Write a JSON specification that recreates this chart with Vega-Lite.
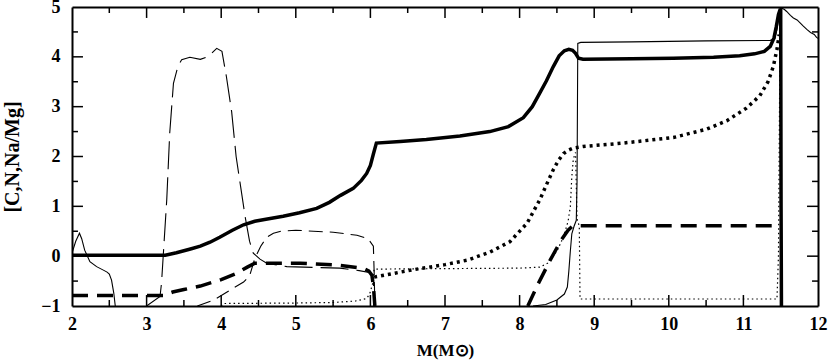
{
  "$schema": "https://vega.github.io/schema/vega-lite/v6.json",
  "width": 746,
  "height": 299,
  "autosize": {"type": "none"},
  "padding": {"left": 72, "top": 7, "right": 12, "bottom": 58},
  "background": "white",
  "config": {
    "view": {"stroke": null, "fill": null},
    "axis": {
      "zindex": 1,
      "domainColor": "black", "domainWidth": 2, "ticks": false,
      "labelColor": "black", "labelFont": "Liberation Serif", "labelFontSize": 18, "labelFontWeight": "bold",
      "titleColor": "black", "titleFont": "Liberation Serif", "titleFontSize": 20, "titleFontWeight": "bold",
      "grid": false, "labelOverlap": false, "labelFlush": false, "format": "d"
    }
  },
  "data": {"values": [
    {"s":"tk","g":"xb3","x":3,"y":-1},{"s":"tk","g":"xb3","x":3,"y":-0.78},
    {"s":"tk","g":"xb4","x":4,"y":-1},{"s":"tk","g":"xb4","x":4,"y":-0.78},
    {"s":"tk","g":"xb5","x":5,"y":-1},{"s":"tk","g":"xb5","x":5,"y":-0.78},
    {"s":"tk","g":"xb6","x":6,"y":-1},{"s":"tk","g":"xb6","x":6,"y":-0.78},
    {"s":"tk","g":"xb7","x":7,"y":-1},{"s":"tk","g":"xb7","x":7,"y":-0.78},
    {"s":"tk","g":"xb8","x":8,"y":-1},{"s":"tk","g":"xb8","x":8,"y":-0.78},
    {"s":"tk","g":"xb9","x":9,"y":-1},{"s":"tk","g":"xb9","x":9,"y":-0.78},
    {"s":"tk","g":"xb10","x":10,"y":-1},{"s":"tk","g":"xb10","x":10,"y":-0.78},
    {"s":"tk","g":"xb11","x":11,"y":-1},{"s":"tk","g":"xb11","x":11,"y":-0.78},
    {"s":"tk","g":"xt3","x":3,"y":5},{"s":"tk","g":"xt3","x":3,"y":4.78},
    {"s":"tk","g":"xt4","x":4,"y":5},{"s":"tk","g":"xt4","x":4,"y":4.78},
    {"s":"tk","g":"xt5","x":5,"y":5},{"s":"tk","g":"xt5","x":5,"y":4.78},
    {"s":"tk","g":"xt6","x":6,"y":5},{"s":"tk","g":"xt6","x":6,"y":4.78},
    {"s":"tk","g":"xt7","x":7,"y":5},{"s":"tk","g":"xt7","x":7,"y":4.78},
    {"s":"tk","g":"xt8","x":8,"y":5},{"s":"tk","g":"xt8","x":8,"y":4.78},
    {"s":"tk","g":"xt9","x":9,"y":5},{"s":"tk","g":"xt9","x":9,"y":4.78},
    {"s":"tk","g":"xt10","x":10,"y":5},{"s":"tk","g":"xt10","x":10,"y":4.78},
    {"s":"tk","g":"xt11","x":11,"y":5},{"s":"tk","g":"xt11","x":11,"y":4.78},
    {"s":"tk","g":"xbm2.5","x":2.5,"y":-1},{"s":"tk","g":"xbm2.5","x":2.5,"y":-0.88},
    {"s":"tk","g":"xbm3.5","x":3.5,"y":-1},{"s":"tk","g":"xbm3.5","x":3.5,"y":-0.88},
    {"s":"tk","g":"xbm4.5","x":4.5,"y":-1},{"s":"tk","g":"xbm4.5","x":4.5,"y":-0.88},
    {"s":"tk","g":"xbm5.5","x":5.5,"y":-1},{"s":"tk","g":"xbm5.5","x":5.5,"y":-0.88},
    {"s":"tk","g":"xbm6.5","x":6.5,"y":-1},{"s":"tk","g":"xbm6.5","x":6.5,"y":-0.88},
    {"s":"tk","g":"xbm7.5","x":7.5,"y":-1},{"s":"tk","g":"xbm7.5","x":7.5,"y":-0.88},
    {"s":"tk","g":"xbm8.5","x":8.5,"y":-1},{"s":"tk","g":"xbm8.5","x":8.5,"y":-0.88},
    {"s":"tk","g":"xbm9.5","x":9.5,"y":-1},{"s":"tk","g":"xbm9.5","x":9.5,"y":-0.88},
    {"s":"tk","g":"xbm10.5","x":10.5,"y":-1},{"s":"tk","g":"xbm10.5","x":10.5,"y":-0.88},
    {"s":"tk","g":"xbm11.5","x":11.5,"y":-1},{"s":"tk","g":"xbm11.5","x":11.5,"y":-0.88},
    {"s":"tk","g":"xtm2.5","x":2.5,"y":5},{"s":"tk","g":"xtm2.5","x":2.5,"y":4.88},
    {"s":"tk","g":"xtm3.5","x":3.5,"y":5},{"s":"tk","g":"xtm3.5","x":3.5,"y":4.88},
    {"s":"tk","g":"xtm4.5","x":4.5,"y":5},{"s":"tk","g":"xtm4.5","x":4.5,"y":4.88},
    {"s":"tk","g":"xtm5.5","x":5.5,"y":5},{"s":"tk","g":"xtm5.5","x":5.5,"y":4.88},
    {"s":"tk","g":"xtm6.5","x":6.5,"y":5},{"s":"tk","g":"xtm6.5","x":6.5,"y":4.88},
    {"s":"tk","g":"xtm7.5","x":7.5,"y":5},{"s":"tk","g":"xtm7.5","x":7.5,"y":4.88},
    {"s":"tk","g":"xtm8.5","x":8.5,"y":5},{"s":"tk","g":"xtm8.5","x":8.5,"y":4.88},
    {"s":"tk","g":"xtm9.5","x":9.5,"y":5},{"s":"tk","g":"xtm9.5","x":9.5,"y":4.88},
    {"s":"tk","g":"xtm10.5","x":10.5,"y":5},{"s":"tk","g":"xtm10.5","x":10.5,"y":4.88},
    {"s":"tk","g":"xtm11.5","x":11.5,"y":5},{"s":"tk","g":"xtm11.5","x":11.5,"y":4.88},
    {"s":"tk","g":"yl0","x":2,"y":0},{"s":"tk","g":"yl0","x":2.147,"y":0},
    {"s":"tk","g":"yl1","x":2,"y":1},{"s":"tk","g":"yl1","x":2.147,"y":1},
    {"s":"tk","g":"yl2","x":2,"y":2},{"s":"tk","g":"yl2","x":2.147,"y":2},
    {"s":"tk","g":"yl3","x":2,"y":3},{"s":"tk","g":"yl3","x":2.147,"y":3},
    {"s":"tk","g":"yl4","x":2,"y":4},{"s":"tk","g":"yl4","x":2.147,"y":4},
    {"s":"tk","g":"yr0","x":11.853,"y":0},{"s":"tk","g":"yr0","x":12,"y":0},
    {"s":"tk","g":"yr1","x":11.853,"y":1},{"s":"tk","g":"yr1","x":12,"y":1},
    {"s":"tk","g":"yr2","x":11.853,"y":2},{"s":"tk","g":"yr2","x":12,"y":2},
    {"s":"tk","g":"yr3","x":11.853,"y":3},{"s":"tk","g":"yr3","x":12,"y":3},
    {"s":"tk","g":"yr4","x":11.853,"y":4},{"s":"tk","g":"yr4","x":12,"y":4},
    {"s":"tk","g":"ylm-0.5","x":2,"y":-0.5},{"s":"tk","g":"ylm-0.5","x":2.08,"y":-0.5},
    {"s":"tk","g":"ylm0.5","x":2,"y":0.5},{"s":"tk","g":"ylm0.5","x":2.08,"y":0.5},
    {"s":"tk","g":"ylm1.5","x":2,"y":1.5},{"s":"tk","g":"ylm1.5","x":2.08,"y":1.5},
    {"s":"tk","g":"ylm2.5","x":2,"y":2.5},{"s":"tk","g":"ylm2.5","x":2.08,"y":2.5},
    {"s":"tk","g":"ylm3.5","x":2,"y":3.5},{"s":"tk","g":"ylm3.5","x":2.08,"y":3.5},
    {"s":"tk","g":"ylm4.5","x":2,"y":4.5},{"s":"tk","g":"ylm4.5","x":2.08,"y":4.5},
    {"s":"tk","g":"yrm-0.5","x":11.92,"y":-0.5},{"s":"tk","g":"yrm-0.5","x":12,"y":-0.5},
    {"s":"tk","g":"yrm0.5","x":11.92,"y":0.5},{"s":"tk","g":"yrm0.5","x":12,"y":0.5},
    {"s":"tk","g":"yrm1.5","x":11.92,"y":1.5},{"s":"tk","g":"yrm1.5","x":12,"y":1.5},
    {"s":"tk","g":"yrm2.5","x":11.92,"y":2.5},{"s":"tk","g":"yrm2.5","x":12,"y":2.5},
    {"s":"tk","g":"yrm3.5","x":11.92,"y":3.5},{"s":"tk","g":"yrm3.5","x":12,"y":3.5},
    {"s":"tk","g":"yrm4.5","x":11.92,"y":4.5},{"s":"tk","g":"yrm4.5","x":12,"y":4.5},

    {"s":"TS","g":"TS","x":2,"y":0.02},{"s":"TS","g":"TS","x":2.5,"y":0.02},{"s":"TS","g":"TS","x":3.0,"y":0.02},{"s":"TS","g":"TS","x":3.25,"y":0.02},{"s":"TS","g":"TS","x":3.4,"y":0.07},{"s":"TS","g":"TS","x":3.6,"y":0.15},{"s":"TS","g":"TS","x":3.72,"y":0.2},{"s":"TS","g":"TS","x":3.85,"y":0.28},{"s":"TS","g":"TS","x":3.98,"y":0.38},{"s":"TS","g":"TS","x":4.15,"y":0.52},{"s":"TS","g":"TS","x":4.3,"y":0.63},{"s":"TS","g":"TS","x":4.45,"y":0.7},{"s":"TS","g":"TS","x":4.6,"y":0.74},{"s":"TS","g":"TS","x":4.83,"y":0.8},{"s":"TS","g":"TS","x":5.05,"y":0.87},{"s":"TS","g":"TS","x":5.28,"y":0.96},{"s":"TS","g":"TS","x":5.45,"y":1.08},{"s":"TS","g":"TS","x":5.6,"y":1.22},{"s":"TS","g":"TS","x":5.77,"y":1.36},{"s":"TS","g":"TS","x":5.88,"y":1.52},{"s":"TS","g":"TS","x":5.95,"y":1.66},{"s":"TS","g":"TS","x":6.0,"y":1.82},{"s":"TS","g":"TS","x":6.04,"y":2.05},{"s":"TS","g":"TS","x":6.08,"y":2.27},{"s":"TS","g":"TS","x":6.4,"y":2.3},{"s":"TS","g":"TS","x":6.75,"y":2.34},{"s":"TS","g":"TS","x":7.2,"y":2.41},{"s":"TS","g":"TS","x":7.6,"y":2.5},{"s":"TS","g":"TS","x":7.85,"y":2.6},{"s":"TS","g":"TS","x":8.05,"y":2.78},{"s":"TS","g":"TS","x":8.17,"y":3.0},{"s":"TS","g":"TS","x":8.27,"y":3.27},{"s":"TS","g":"TS","x":8.36,"y":3.52},{"s":"TS","g":"TS","x":8.45,"y":3.8},{"s":"TS","g":"TS","x":8.53,"y":4.02},{"s":"TS","g":"TS","x":8.6,"y":4.12},{"s":"TS","g":"TS","x":8.66,"y":4.15},{"s":"TS","g":"TS","x":8.71,"y":4.13},{"s":"TS","g":"TS","x":8.75,"y":4.07},{"s":"TS","g":"TS","x":8.79,"y":3.97},{"s":"TS","g":"TS","x":8.85,"y":3.95},{"s":"TS","g":"TS","x":9.5,"y":3.96},{"s":"TS","g":"TS","x":10.06,"y":3.97},{"s":"TS","g":"TS","x":10.6,"y":3.99},{"s":"TS","g":"TS","x":10.95,"y":4.02},{"s":"TS","g":"TS","x":11.15,"y":4.06},{"s":"TS","g":"TS","x":11.28,"y":4.11},{"s":"TS","g":"TS","x":11.36,"y":4.21},{"s":"TS","g":"TS","x":11.41,"y":4.38},{"s":"TS","g":"TS","x":11.44,"y":4.6},{"s":"TS","g":"TS","x":11.47,"y":4.85},{"s":"TS","g":"TS","x":11.49,"y":4.94},{"s":"TS","g":"TS","x":11.5,"y":4.94},{"s":"TS","g":"TS","x":11.505,"y":1.0},{"s":"TS","g":"TS","x":11.51,"y":-1},

    {"s":"ts","g":"ts1","x":2.0,"y":0.06},{"s":"ts","g":"ts1","x":2.05,"y":0.3},{"s":"ts","g":"ts1","x":2.1,"y":0.46},{"s":"ts","g":"ts1","x":2.13,"y":0.35},{"s":"ts","g":"ts1","x":2.17,"y":0.12},{"s":"ts","g":"ts1","x":2.24,"y":-0.11},{"s":"ts","g":"ts1","x":2.33,"y":-0.21},{"s":"ts","g":"ts1","x":2.42,"y":-0.28},{"s":"ts","g":"ts1","x":2.47,"y":-0.32},{"s":"ts","g":"ts1","x":2.5,"y":-0.36},{"s":"ts","g":"ts1","x":2.53,"y":-0.48},{"s":"ts","g":"ts1","x":2.56,"y":-0.74},{"s":"ts","g":"ts1","x":2.58,"y":-1.0},
    {"s":"ts","g":"ts2","x":8.18,"y":-1.0},{"s":"ts","g":"ts2","x":8.35,"y":-0.97},{"s":"ts","g":"ts2","x":8.5,"y":-0.88},{"s":"ts","g":"ts2","x":8.6,"y":-0.76},{"s":"ts","g":"ts2","x":8.64,"y":-0.62},{"s":"ts","g":"ts2","x":8.66,"y":-0.3},{"s":"ts","g":"ts2","x":8.68,"y":0.1},{"s":"ts","g":"ts2","x":8.7,"y":0.45},{"s":"ts","g":"ts2","x":8.73,"y":0.6},{"s":"ts","g":"ts2","x":8.76,"y":0.72},{"s":"ts","g":"ts2","x":8.77,"y":1.5},{"s":"ts","g":"ts2","x":8.78,"y":4.27},{"s":"ts","g":"ts2","x":8.82,"y":4.29},{"s":"ts","g":"ts2","x":9.5,"y":4.3},{"s":"ts","g":"ts2","x":10.5,"y":4.32},{"s":"ts","g":"ts2","x":11.36,"y":4.33},{"s":"ts","g":"ts2","x":11.42,"y":4.36},{"s":"ts","g":"ts2","x":11.45,"y":4.55},{"s":"ts","g":"ts2","x":11.47,"y":4.75},{"s":"ts","g":"ts2","x":11.49,"y":4.92},{"s":"ts","g":"ts2","x":11.51,"y":4.98},{"s":"ts","g":"ts2","x":11.55,"y":4.95},{"s":"ts","g":"ts2","x":11.58,"y":4.91},{"s":"ts","g":"ts2","x":11.63,"y":4.83},{"s":"ts","g":"ts2","x":11.67,"y":4.78},{"s":"ts","g":"ts2","x":11.72,"y":4.74},{"s":"ts","g":"ts2","x":11.76,"y":4.68},{"s":"ts","g":"ts2","x":11.8,"y":4.62},{"s":"ts","g":"ts2","x":11.85,"y":4.55},{"s":"ts","g":"ts2","x":11.9,"y":4.49},{"s":"ts","g":"ts2","x":11.95,"y":4.45},{"s":"ts","g":"ts2","x":11.98,"y":4.39},{"s":"ts","g":"ts2","x":12.0,"y":4.37},

    {"s":"TD","g":"TD1","x":2,"y":-0.79},{"s":"TD","g":"TD1","x":3.22,"y":-0.79},{"s":"TD","g":"TD1","x":3.35,"y":-0.72},{"s":"TD","g":"TD1","x":3.5,"y":-0.67},{"s":"TD","g":"TD1","x":3.72,"y":-0.6},{"s":"TD","g":"TD1","x":4.0,"y":-0.47},{"s":"TD","g":"TD1","x":4.2,"y":-0.35},{"s":"TD","g":"TD1","x":4.35,"y":-0.22},{"s":"TD","g":"TD1","x":4.45,"y":-0.14},{"s":"TD","g":"TD1","x":5.06,"y":-0.14},{"s":"TD","g":"TD1","x":5.55,"y":-0.18},{"s":"TD","g":"TD1","x":5.9,"y":-0.24},{"s":"TD","g":"TD1","x":5.98,"y":-0.3},{"s":"TD","g":"TD1","x":6.02,"y":-0.38},{"s":"TD","g":"TD1","x":6.04,"y":-0.6},{"s":"TD","g":"TD1","x":6.06,"y":-1},
    {"s":"TD","g":"TD2","x":8.11,"y":-1},{"s":"TD","g":"TD2","x":8.25,"y":-0.55},{"s":"TD","g":"TD2","x":8.41,"y":-0.08},{"s":"TD","g":"TD2","x":8.56,"y":0.33},{"s":"TD","g":"TD2","x":8.65,"y":0.52},{"s":"TD","g":"TD2","x":8.7,"y":0.59},{"s":"TD","g":"TD2","x":8.78,"y":0.61},{"s":"TD","g":"TD2","x":11.46,"y":0.61},

    {"s":"td","g":"td","x":3.68,"y":-1},{"s":"td","g":"td","x":3.9,"y":-0.88},{"s":"td","g":"td","x":4.12,"y":-0.68},{"s":"td","g":"td","x":4.3,"y":-0.52},{"s":"td","g":"td","x":4.38,"y":-0.4},{"s":"td","g":"td","x":4.45,"y":-0.05},{"s":"td","g":"td","x":4.53,"y":0.2},{"s":"td","g":"td","x":4.61,"y":0.38},{"s":"td","g":"td","x":4.7,"y":0.46},{"s":"td","g":"td","x":4.8,"y":0.5},{"s":"td","g":"td","x":5.0,"y":0.52},{"s":"td","g":"td","x":5.5,"y":0.48},{"s":"td","g":"td","x":5.82,"y":0.42},{"s":"td","g":"td","x":5.97,"y":0.35},{"s":"td","g":"td","x":6.04,"y":0.2},{"s":"td","g":"td","x":6.05,"y":-0.3},{"s":"td","g":"td","x":6.06,"y":-1},

    {"s":"ld","g":"ld","x":3.0,"y":-1},{"s":"ld","g":"ld","x":3.18,"y":-0.81},{"s":"ld","g":"ld","x":3.2,"y":-0.54},{"s":"ld","g":"ld","x":3.27,"y":1.13},{"s":"ld","g":"ld","x":3.31,"y":2.47},{"s":"ld","g":"ld","x":3.36,"y":3.47},{"s":"ld","g":"ld","x":3.42,"y":3.81},{"s":"ld","g":"ld","x":3.47,"y":3.94},{"s":"ld","g":"ld","x":3.58,"y":3.99},{"s":"ld","g":"ld","x":3.72,"y":3.95},{"s":"ld","g":"ld","x":3.83,"y":4.01},{"s":"ld","g":"ld","x":3.94,"y":4.17},{"s":"ld","g":"ld","x":4.01,"y":4.11},{"s":"ld","g":"ld","x":4.07,"y":3.6},{"s":"ld","g":"ld","x":4.14,"y":2.9},{"s":"ld","g":"ld","x":4.2,"y":2.0},{"s":"ld","g":"ld","x":4.26,"y":1.4},{"s":"ld","g":"ld","x":4.32,"y":0.8},{"s":"ld","g":"ld","x":4.38,"y":0.3},{"s":"ld","g":"ld","x":4.43,"y":0.06},{"s":"ld","g":"ld","x":4.52,"y":-0.06},{"s":"ld","g":"ld","x":4.61,"y":-0.14},{"s":"ld","g":"ld","x":4.88,"y":-0.21},{"s":"ld","g":"ld","x":5.59,"y":-0.24},{"s":"ld","g":"ld","x":5.85,"y":-0.29},{"s":"ld","g":"ld","x":6.0,"y":-0.33},{"s":"ld","g":"ld","x":6.04,"y":-0.5},{"s":"ld","g":"ld","x":6.05,"y":-1},

    {"s":"TO","g":"TO","x":6.05,"y":-0.42},{"s":"TO","g":"TO","x":6.4,"y":-0.32},{"s":"TO","g":"TO","x":6.66,"y":-0.25},{"s":"TO","g":"TO","x":7.0,"y":-0.17},{"s":"TO","g":"TO","x":7.3,"y":-0.08},{"s":"TO","g":"TO","x":7.6,"y":0.08},{"s":"TO","g":"TO","x":7.87,"y":0.29},{"s":"TO","g":"TO","x":8.1,"y":0.66},{"s":"TO","g":"TO","x":8.27,"y":1.13},{"s":"TO","g":"TO","x":8.38,"y":1.5},{"s":"TO","g":"TO","x":8.45,"y":1.73},{"s":"TO","g":"TO","x":8.52,"y":1.92},{"s":"TO","g":"TO","x":8.59,"y":2.06},{"s":"TO","g":"TO","x":8.66,"y":2.13},{"s":"TO","g":"TO","x":8.72,"y":2.17},{"s":"TO","g":"TO","x":8.85,"y":2.2},{"s":"TO","g":"TO","x":9.39,"y":2.27},{"s":"TO","g":"TO","x":10.06,"y":2.38},{"s":"TO","g":"TO","x":10.51,"y":2.55},{"s":"TO","g":"TO","x":10.78,"y":2.72},{"s":"TO","g":"TO","x":11.04,"y":2.97},{"s":"TO","g":"TO","x":11.22,"y":3.22},{"s":"TO","g":"TO","x":11.33,"y":3.5},{"s":"TO","g":"TO","x":11.4,"y":3.8},{"s":"TO","g":"TO","x":11.45,"y":4.15},{"s":"TO","g":"TO","x":11.48,"y":4.45},

    {"s":"to","g":"to","x":4.0,"y":-1.0},{"s":"to","g":"to","x":4.03,"y":-0.95},{"s":"to","g":"to","x":5.0,"y":-0.94},{"s":"to","g":"to","x":5.5,"y":-0.93},{"s":"to","g":"to","x":5.8,"y":-0.9},{"s":"to","g":"to","x":5.95,"y":-0.85},{"s":"to","g":"to","x":5.99,"y":-0.76},{"s":"to","g":"to","x":6.03,"y":-0.55},{"s":"to","g":"to","x":6.05,"y":-0.26},{"s":"to","g":"to","x":7.0,"y":-0.25},{"s":"to","g":"to","x":8.0,"y":-0.24},{"s":"to","g":"to","x":8.27,"y":-0.22},{"s":"to","g":"to","x":8.38,"y":-0.14},{"s":"to","g":"to","x":8.5,"y":0.1},{"s":"to","g":"to","x":8.59,"y":0.39},{"s":"to","g":"to","x":8.65,"y":0.7},{"s":"to","g":"to","x":8.68,"y":0.99},{"s":"to","g":"to","x":8.7,"y":1.6},{"s":"to","g":"to","x":8.72,"y":1.95},{"s":"to","g":"to","x":8.75,"y":2.08},{"s":"to","g":"to","x":8.77,"y":0.75},{"s":"to","g":"to","x":8.8,"y":0.6},{"s":"to","g":"to","x":8.81,"y":-0.86},{"s":"to","g":"to","x":11.45,"y":-0.86},{"s":"to","g":"to","x":11.47,"y":0.0},{"s":"to","g":"to","x":11.49,"y":4.3}
  ]},
  "resolve": {"axis": {"x": "independent", "y": "independent"}},
  "layer": [
    {
      "transform": [{"filter": "datum.s === 'TS'"}],
      "mark": {"type": "line", "color": "black", "strokeWidth": 3.5, "clip": true},
      "encoding": {
        "x": {"field": "x", "type": "quantitative", "scale": {"domain": [2, 12], "nice": false, "zero": false},
          "axis": {"orient": "bottom", "values": [2,3,4,5,6,7,8,9,10,11,12],
            "labelPadding": 9, "title": "M(M⊙)", "titleFontSize": 17, "titleX": 373, "titleY": 49, "titleBaseline": "alphabetic"}},
        "y": {"field": "y", "type": "quantitative", "scale": {"domain": [-1, 5], "nice": false, "zero": false},
          "axis": {"orient": "left", "values": [-1,0,1,2,3,4,5],
            "labelPadding": 12, "title": "[C,N,Na/Mg]", "titleX": -54, "titleY": 149.5, "titleBaseline": "alphabetic"}},
        "detail": {"field": "g"}
      }
    },
    {
      "transform": [{"filter": "datum.s === 'ts'"}],
      "mark": {"type": "line", "color": "black", "strokeWidth": 1.1, "clip": true},
      "encoding": {
        "x": {"field": "x", "type": "quantitative",
          "axis": {"orient": "top", "values": [2,3,4,5,6,7,8,9,10,11,12], "labels": false, "title": null}},
        "y": {"field": "y", "type": "quantitative",
          "axis": {"orient": "right", "values": [-1,0,1,2,3,4,5], "labels": false, "title": null}},
        "detail": {"field": "g"}
      }
    },
    {
      "transform": [{"filter": "datum.s === 'TD'"}],
      "mark": {"type": "line", "color": "black", "strokeWidth": 3.5, "strokeDash": [16, 9], "clip": true},
      "encoding": {"x": {"field": "x", "type": "quantitative", "axis": null}, "y": {"field": "y", "type": "quantitative", "axis": null}, "detail": {"field": "g"}}
    },
    {
      "transform": [{"filter": "datum.s === 'td'"}],
      "mark": {"type": "line", "color": "black", "strokeWidth": 1.1, "strokeDash": [14, 7], "clip": true},
      "encoding": {"x": {"field": "x", "type": "quantitative", "axis": null}, "y": {"field": "y", "type": "quantitative", "axis": null}, "detail": {"field": "g"}}
    },
    {
      "transform": [{"filter": "datum.s === 'ld'"}],
      "mark": {"type": "line", "color": "black", "strokeWidth": 1.1, "strokeDash": [28, 8], "clip": true},
      "encoding": {"x": {"field": "x", "type": "quantitative", "axis": null}, "y": {"field": "y", "type": "quantitative", "axis": null}, "detail": {"field": "g"}}
    },
    {
      "transform": [{"filter": "datum.s === 'TO'"}],
      "mark": {"type": "line", "color": "black", "strokeWidth": 3.5, "strokeDash": [3, 4], "clip": true},
      "encoding": {"x": {"field": "x", "type": "quantitative", "axis": null}, "y": {"field": "y", "type": "quantitative", "axis": null}, "detail": {"field": "g"}}
    },
    {
      "transform": [{"filter": "datum.s === 'to'"}],
      "mark": {"type": "line", "color": "black", "strokeWidth": 1.2, "strokeDash": [1.5, 3], "clip": true},
      "encoding": {"x": {"field": "x", "type": "quantitative", "axis": null}, "y": {"field": "y", "type": "quantitative", "axis": null}, "detail": {"field": "g"}}
    },
    {
      "transform": [{"filter": "datum.s === 'tk'"}],
      "mark": {"type": "line", "color": "black", "strokeWidth": 1.5},
      "encoding": {"x": {"field": "x", "type": "quantitative", "axis": null}, "y": {"field": "y", "type": "quantitative", "axis": null}, "detail": {"field": "g"}}
    }
  ]
}
